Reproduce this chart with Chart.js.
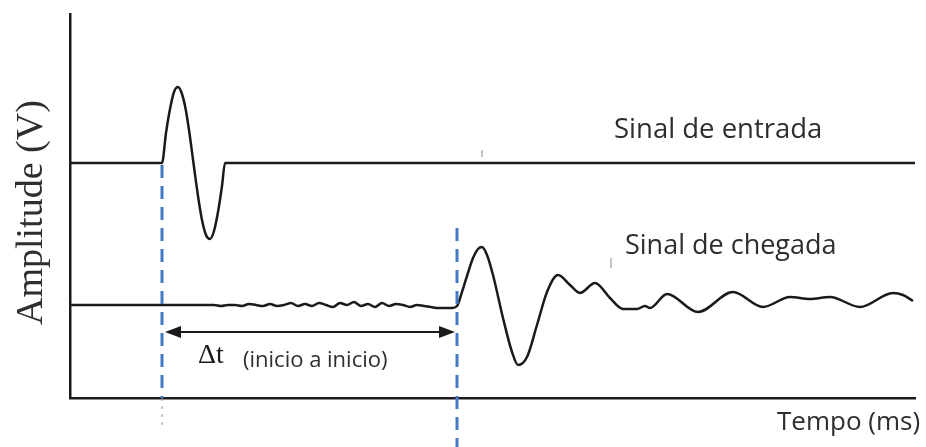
<!DOCTYPE html>
<html>
<head>
<meta charset="utf-8">
<script src="https://cdn.jsdelivr.net/npm/chart.js@4.4.0/dist/chart.umd.min.js"></script>
<style>
  body { margin: 0; background: #fff; }
  #wrap { width: 926px; height: 447px; }
</style>
</head>
<body>
<div id="wrap"><canvas id="signalChart"></canvas></div>
<script>
// sinal de entrada (tempo em ms, amplitude em V)
const inputTime = [0, 0.92, 0.96, 1.00, 1.04, 1.08, 1.12, 1.16, 1.20, 1.24, 1.28, 1.32, 1.36, 1.40, 1.44, 1.48, 1.52, 1.55, 8.45];
const inputAmp  = [2.35, 2.35, 2.65, 2.89, 3.06, 3.11, 3.04, 2.87, 2.61, 2.31, 2.02, 1.78, 1.63, 1.59, 1.67, 1.86, 2.12, 2.35, 2.35];

// sinal de chegada
const arrivalTime = [0, 1.37, 1.44, 1.51, 1.58, 1.65, 1.72, 1.79, 1.86, 1.93, 2.00, 2.07, 2.14, 2.21, 2.28, 2.35,
  2.42, 2.49, 2.56, 2.63, 2.70, 2.77, 2.84, 2.91, 2.98, 3.05, 3.12, 3.19, 3.26, 3.33, 3.40, 3.47, 3.54,
  3.61, 3.68, 3.75, 3.82, 3.87, 3.92, 3.97, 4.03, 4.08, 4.12, 4.17, 4.23, 4.33, 4.42, 4.48, 4.57, 4.67,
  4.77, 4.88, 5.00, 5.10, 5.25, 5.40, 5.53, 5.67, 5.75, 5.80, 5.97, 6.28, 6.63, 6.93, 7.20, 7.40, 7.60,
  7.90, 8.23, 8.33, 8.43];
const arrivalAmp = [0.93, 0.93, 0.93, 0.92, 0.93, 0.93, 0.92, 0.94, 0.93, 0.92, 0.94, 0.92, 0.93, 0.95, 0.92, 0.94,
  0.92, 0.95, 0.93, 0.91, 0.95, 0.93, 0.96, 0.92, 0.94, 0.91, 0.95, 0.92, 0.94, 0.93, 0.91, 0.93, 0.92,
  0.91, 0.90, 0.90, 0.90, 0.92, 1.06, 1.22, 1.40, 1.49, 1.51, 1.43, 1.23, 0.80, 0.46, 0.33, 0.41, 0.73,
  1.06, 1.23, 1.13, 1.05, 1.15, 1.00, 0.89, 0.89, 0.92, 0.90, 1.04, 0.86, 1.06, 0.91, 1.01, 0.99, 1.01,
  0.91, 1.05, 1.03, 0.97];

// inicio de cada sinal (ms)
const startInput = 0.92;
const startArrival = 3.87;

const toPoints = (xs, ys) => xs.map((x, i) => ({ x: x, y: ys[i] }));

const blue = '#4479c6';
const ink = '#1a1a1a';

const annotations = {
  id: 'annotations',
  afterDatasetsDraw(chart) {
    const ctx = chart.ctx;
    const sx = chart.scales.x;
    const sy = chart.scales.y;
    const px = v => sx.getPixelForValue(v);
    const py = v => sy.getPixelForValue(v);
    ctx.save();

    // seta dupla do delta t
    const ay = py(0.66), ax1 = px(0.95), ax2 = px(3.85);
    ctx.strokeStyle = ink;
    ctx.fillStyle = ink;
    ctx.lineWidth = 2;
    ctx.beginPath();
    ctx.moveTo(ax1 + 10, ay);
    ctx.lineTo(ax2 - 10, ay);
    ctx.stroke();
    ctx.beginPath();
    ctx.moveTo(ax1, ay);
    ctx.lineTo(ax1 + 16, ay - 6);
    ctx.lineTo(ax1 + 16, ay + 6);
    ctx.closePath();
    ctx.fill();
    ctx.beginPath();
    ctx.moveTo(ax2, ay);
    ctx.lineTo(ax2 - 16, ay - 6);
    ctx.lineTo(ax2 - 16, ay + 6);
    ctx.closePath();
    ctx.fill();

    // pequenas marcas da figura original
    ctx.strokeStyle = '#888';
    ctx.lineWidth = 1;
    ctx.beginPath();
    ctx.moveTo(px(4.12), py(2.48));
    ctx.lineTo(px(4.12), py(2.41));
    ctx.moveTo(px(5.41), py(1.40));
    ctx.lineTo(px(5.41), py(1.30));
    ctx.stroke();

    // textos
    ctx.textAlign = 'left';
    ctx.textBaseline = 'alphabetic';
    ctx.fillStyle = '#2e2e2e';
    ctx.font = '27.5px "Open Sans"';
    ctx.fillText('Sinal de entrada', px(5.44), py(2.60));
    ctx.font = '27px "Open Sans"';
    ctx.fillText('Sinal de chegada', px(5.55), py(1.44));
    ctx.font = '26px "Open Sans"';
    ctx.fillText('Tempo (ms)', px(7.07), py(-0.32));
    ctx.font = '22px "Open Sans"';
    ctx.fillText('(inicio a inicio)', px(1.73), py(0.31));
    ctx.fillStyle = ink;
    ctx.font = '28px "Liberation Serif"';
    ctx.fillText('\u0394t', px(1.28), py(0.35));

    ctx.font = '38px "Liberation Serif"';
    ctx.fillStyle = '#2e2e2e';
    ctx.translate(px(-0.28), py(0.73));
    ctx.rotate(-Math.PI / 2);
    ctx.fillText('Amplitude (V)', 0, 0);
    ctx.restore();
  }
};

new Chart(document.getElementById('signalChart'), {
  type: 'line',
  data: {
    datasets: [
      {
        label: 'inicio entrada',
        data: [{ x: startInput, y: 2.33 }, { x: startInput, y: 0 }],
        borderColor: blue,
        borderWidth: 3,
        borderDash: [13, 8],
        pointRadius: 0,
        clip: false
      },
      {
        label: 'guia entrada',
        data: [{ x: startInput, y: 0 }, { x: startInput, y: -0.27 }],
        borderColor: '#999',
        borderWidth: 1,
        borderDash: [3, 5],
        pointRadius: 0,
        clip: false
      },
      {
        label: 'inicio chegada',
        data: [{ x: startArrival, y: 1.70 }, { x: startArrival, y: -0.50 }],
        borderColor: blue,
        borderWidth: 3,
        borderDash: [13, 8],
        pointRadius: 0,
        clip: false
      },
      {
        label: 'Sinal de entrada',
        data: toPoints(inputTime, inputAmp),
        borderColor: ink,
        borderWidth: 2.5,
        pointRadius: 0,
        cubicInterpolationMode: 'monotone'
      },
      {
        label: 'Sinal de chegada',
        data: toPoints(arrivalTime, arrivalAmp),
        borderColor: ink,
        borderWidth: 2.5,
        pointRadius: 0,
        cubicInterpolationMode: 'monotone'
      }
    ]
  },
  options: {
    responsive: true,
    maintainAspectRatio: false,
    animation: false,
    layout: { padding: { left: 70, right: 11, top: 14, bottom: 49 } },
    plugins: { legend: { display: false }, tooltip: { enabled: false } },
    scales: {
      x: {
        type: 'linear',
        min: 0,
        max: 8.45,
        grid: { display: false, drawTicks: false },
        ticks: { display: false },
        border: { display: true, color: ink, width: 2.5 }
      },
      y: {
        min: 0,
        max: 3.84,
        grid: { display: false, drawTicks: false },
        ticks: { display: false },
        border: { display: true, color: ink, width: 2.5 }
      }
    }
  },
  plugins: [annotations]
});
</script>
</body>
</html>
